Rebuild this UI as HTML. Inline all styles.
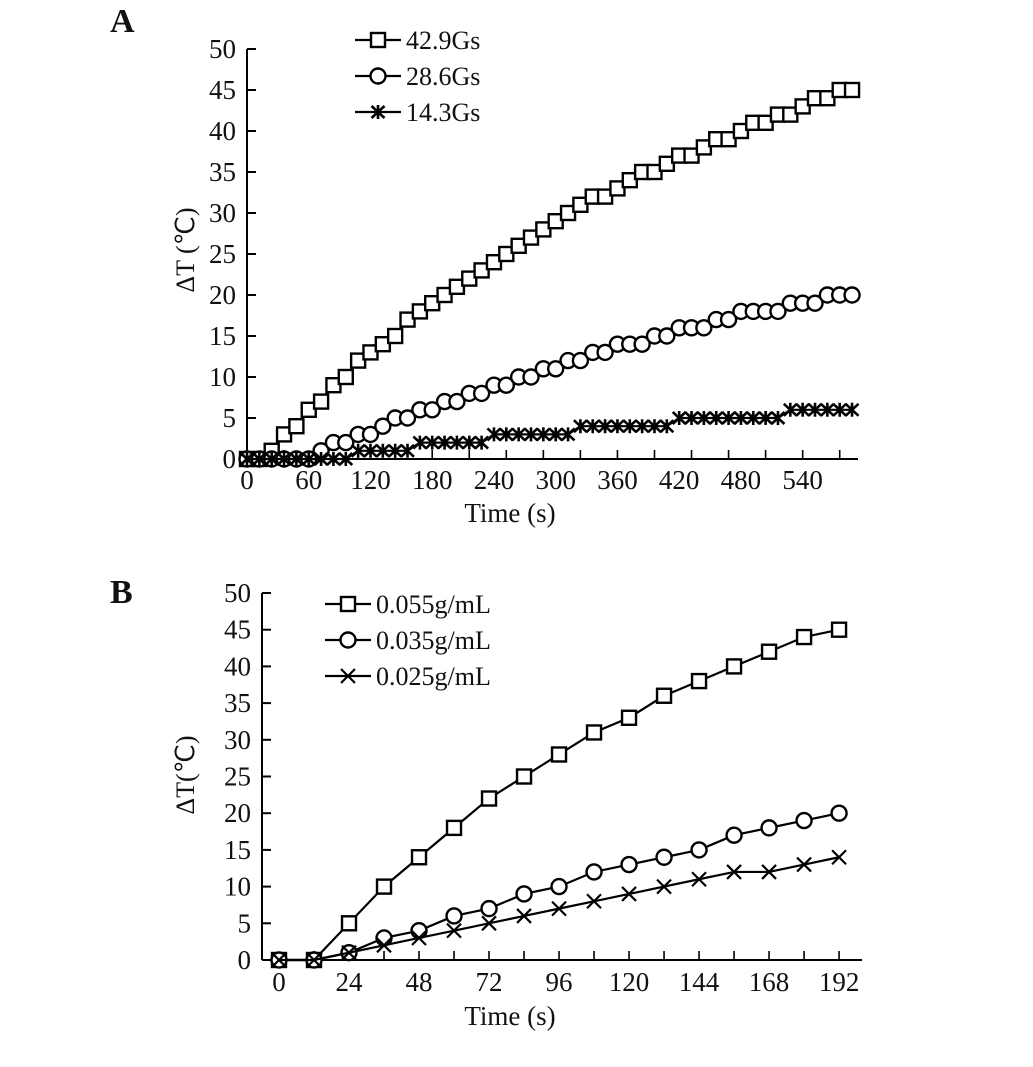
<!DOCTYPE html>
<html><head><meta charset="utf-8"><style>
body{margin:0;background:#fff;width:1033px;height:1067px;overflow:hidden}
svg{display:block}
text{font-family:"Liberation Serif",serif;fill:#111}
</style></head><body>
<svg id="chart" width="1033" height="1067" viewBox="0 0 1033 1067"></svg>
<script>
// Panel A data
const aTimes = [];
const aSquare = [0,0,1,3,4,6,7,9,10,12,13,14,15,17,18,19,20,21,22,23,24,25,26,27,28,29,30,31,32,32,33,34,35,35,36,37,37,38,39,39,40,41,41,42,42,43,44,44,45,45];
const aCircle = [0,0,0,0,0,0,1,2,2,3,3,4,5,5,6,6,7,7,8,8,9,9,10,10,11,11,12,12,13,13,14,14,14,15,15,16,16,16,17,17,18,18,18,18,19,19,19,20,20,20];
const aStar =   [0,0,0,0,0,0,0,0,0,1,1,1,1,1,2,2,2,2,2,2,3,3,3,3,3,3,3,4,4,4,4,4,4,4,4,5,5,5,5,5,5,5,5,5,6,6,6,6,6,6];
for(let i=0;i<aSquare.length;i++) aTimes.push(i*12);
const aXTicks = [0,60,120,180,240,300,360,420,480,540];
const yTicks = [0,5,10,15,20,25,30,35,40,45,50];
// Panel B data
const bTimes = [0,12,24,36,48,60,72,84,96,108,120,132,144,156,168,180,192];
const bSquare = [0,0,5,10,14,18,22,25,28,31,33,36,38,40,42,44,45];
const bCircle = [0,0,1,3,4,6,7,9,10,12,13,14,15,17,18,19,20];
const bCross  = [0,0,1,2,3,4,5,6,7,8,9,10,11,12,12,13,14];
const bXTicks = [0,24,48,72,96,120,144,168,192];

const NS="http://www.w3.org/2000/svg";
const svg=document.getElementById('chart');
function el(tag,attrs,parent,txt){const e=document.createElementNS(NS,tag);for(const k in attrs)e.setAttribute(k,attrs[k]);if(txt!==undefined)e.textContent=txt;(parent||svg).appendChild(e);return e;}

function marker(g,type,x,y){
  const st={fill:'#fff',stroke:'#000','stroke-width':2.4};
  let m;
  if(type==='square'){m=el('rect',Object.assign({x:x-7,y:y-7,width:14,height:14},st),g);}
  else if(type==='circle'){m=el('circle',Object.assign({cx:x,cy:y,r:7.5},st),g);}
  else if(type==='star'){m=el('path',{d:`M${x-6.5} ${y-6}L${x+6.5} ${y+6}M${x+6.5} ${y-6}L${x-6.5} ${y+6}M${x} ${y-7}L${x} ${y+7}`,stroke:'#000','stroke-width':2.6,fill:'none'},g);}
  else {m=el('path',{d:`M${x-7} ${y-7}L${x+7} ${y+7}M${x+7} ${y-7}L${x-7} ${y+7}`,stroke:'#000','stroke-width':2.2,fill:'none'},g);}
  
  
}

function panel(cfg){
  const g=el('g',{});
  
  
  const sx=t=>cfg.x0+t*cfg.kx, sy=v=>cfg.y0-v*cfg.ky;
  const lab=el('text',{x:cfg.labX,y:cfg.labY,'font-size':34,'font-weight':'bold'},g,cfg.letter);
  
  const ax=el('line',{x1:cfg.axX,y1:sy(50),x2:cfg.axX,y2:cfg.y0,stroke:'#000','stroke-width':2},g);
  
  const xa=el('line',{x1:cfg.axX,y1:cfg.y0,x2:cfg.xEnd,y2:cfg.y0,stroke:'#000','stroke-width':2},g);
  
  yTicks.forEach(v=>{
    el('line',{x1:cfg.axX,y1:sy(v),x2:cfg.axX+9,y2:sy(v),stroke:'#000','stroke-width':2},g);
    const t=el('text',{x:cfg.axX-11,y:sy(v)+9,'font-size':27,'text-anchor':'end'},g,v);
    
  });
  for(let t=cfg.minorStep;cfg.x0+t*cfg.kx<=cfg.xEnd-4;t+=cfg.minorStep){
    el('line',{x1:sx(t),y1:cfg.y0,x2:sx(t),y2:cfg.y0-9,stroke:'#000','stroke-width':1.6},g);
  }
  cfg.xTicks.forEach(v=>{
    const t=el('text',{x:sx(v),y:cfg.y0+cfg.tickDy,'font-size':27,'text-anchor':'middle'},g,v);
    
  });
  const xt=el('text',{x:cfg.xtX,y:cfg.xtY,'font-size':27,'text-anchor':'middle'},g,'Time (s)');
  
  const yt=el('text',{x:0,y:0,'font-size':26,'text-anchor':'middle',transform:`translate(${cfg.ytX},${cfg.ytY}) rotate(-90)`},g,cfg.yTitle);
  
  cfg.series.forEach(s=>{
    const sg=el('g',{},g);
    
    const pts=cfg.times.map((t,i)=>sx(t)+','+sy(s.values[i])).join(' ');
    el('polyline',{points:pts,fill:'none',stroke:'#000','stroke-width':2.2},sg);
    cfg.times.forEach((t,i)=>marker(sg,s.type,sx(t),sy(s.values[i])));
  });
  cfg.series.forEach((s,i)=>{
    const lg=el('g',{},g);
    
    const y=cfg.legY+i*cfg.legDy;
    el('line',{x1:cfg.legX,y1:y,x2:cfg.legX+46,y2:y,stroke:'#000','stroke-width':2.2},lg);
    marker(lg,s.type,cfg.legX+23,y);
    el('text',{x:cfg.legX+51,y:y+9,'font-size':26},lg,s.label);
  });
}

panel({name:'panel-a',letter:'A',labX:110,labY:32,x0:247,kx:1.029,y0:459,ky:8.2,axX:247,xEnd:858,minorStep:36,
  xTicks:aXTicks,tickDy:30,xtX:510,xtY:522,ytX:194,ytY:250,yTitle:'ΔT (℃)',times:aTimes,
  legX:355,legY:40,legDy:36,
  series:[{label:'42.9Gs',type:'square',values:aSquare},{label:'28.6Gs',type:'circle',values:aCircle},{label:'14.3Gs',type:'star',values:aStar}]});
panel({name:'panel-b',letter:'B',labX:110,labY:603,x0:279,kx:2.917,y0:960,ky:7.34,axX:262,xEnd:862,minorStep:12,
  xTicks:bXTicks,tickDy:31,xtX:510,xtY:1025,ytX:194,ytY:775,yTitle:'ΔT(℃)',times:bTimes,
  legX:325,legY:604,legDy:36,
  series:[{label:'0.055g/mL',type:'square',values:bSquare},{label:'0.035g/mL',type:'circle',values:bCircle},{label:'0.025g/mL',type:'cross',values:bCross}]});
</script>
</body></html>
